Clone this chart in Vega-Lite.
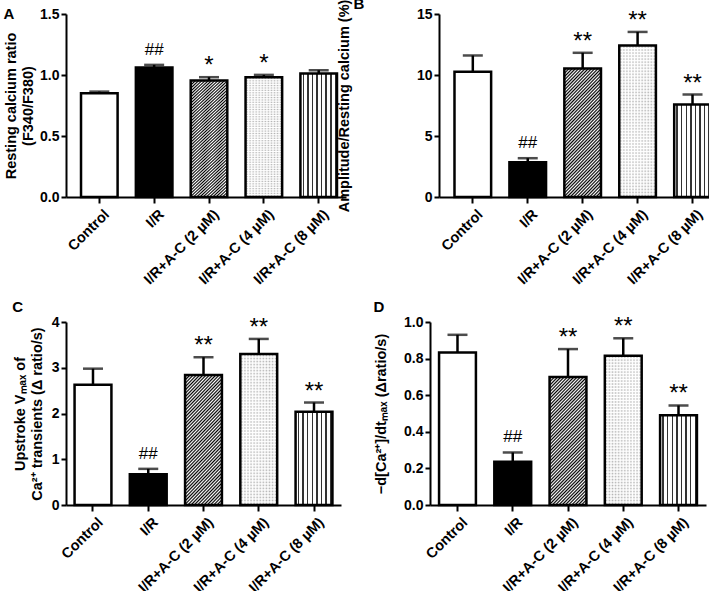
{
"$schema":"https://vega.github.io/schema/vega-lite/v6.json",
"padding":{"left":3,"top":-3,"right":0,"bottom":0},
"background":"white",
"spacing":13,
"params":[
{"name":"hatch","value":{"gradient":"linear","x1":0,"y1":0,"x2":0.35,"y2":1.19,"stops":[
{"offset":0,"color":"#fff"},{"offset":0.01,"color":"#000"},{"offset":0.02,"color":"#fff"},{"offset":0.03,"color":"#000"},{"offset":0.04,"color":"#fff"},{"offset":0.05,"color":"#000"},{"offset":0.06,"color":"#fff"},{"offset":0.07,"color":"#000"},{"offset":0.08,"color":"#fff"},{"offset":0.09,"color":"#000"},
{"offset":0.1,"color":"#fff"},{"offset":0.11,"color":"#000"},{"offset":0.12,"color":"#fff"},{"offset":0.13,"color":"#000"},{"offset":0.14,"color":"#fff"},{"offset":0.15,"color":"#000"},{"offset":0.16,"color":"#fff"},{"offset":0.17,"color":"#000"},{"offset":0.18,"color":"#fff"},{"offset":0.19,"color":"#000"},
{"offset":0.2,"color":"#fff"},{"offset":0.21,"color":"#000"},{"offset":0.22,"color":"#fff"},{"offset":0.23,"color":"#000"},{"offset":0.24,"color":"#fff"},{"offset":0.25,"color":"#000"},{"offset":0.26,"color":"#fff"},{"offset":0.27,"color":"#000"},{"offset":0.28,"color":"#fff"},{"offset":0.29,"color":"#000"},
{"offset":0.3,"color":"#fff"},{"offset":0.31,"color":"#000"},{"offset":0.32,"color":"#fff"},{"offset":0.33,"color":"#000"},{"offset":0.34,"color":"#fff"},{"offset":0.35,"color":"#000"},{"offset":0.36,"color":"#fff"},{"offset":0.37,"color":"#000"},{"offset":0.38,"color":"#fff"},{"offset":0.39,"color":"#000"},
{"offset":0.4,"color":"#fff"},{"offset":0.41,"color":"#000"},{"offset":0.42,"color":"#fff"},{"offset":0.43,"color":"#000"},{"offset":0.44,"color":"#fff"},{"offset":0.45,"color":"#000"},{"offset":0.46,"color":"#fff"},{"offset":0.47,"color":"#000"},{"offset":0.48,"color":"#fff"},{"offset":0.49,"color":"#000"},
{"offset":0.5,"color":"#fff"},{"offset":0.51,"color":"#000"},{"offset":0.52,"color":"#fff"},{"offset":0.53,"color":"#000"},{"offset":0.54,"color":"#fff"},{"offset":0.55,"color":"#000"},{"offset":0.56,"color":"#fff"},{"offset":0.57,"color":"#000"},{"offset":0.58,"color":"#fff"},{"offset":0.59,"color":"#000"},
{"offset":0.6,"color":"#fff"},{"offset":0.61,"color":"#000"},{"offset":0.62,"color":"#fff"},{"offset":0.63,"color":"#000"},{"offset":0.64,"color":"#fff"},{"offset":0.65,"color":"#000"},{"offset":0.66,"color":"#fff"},{"offset":0.67,"color":"#000"},{"offset":0.68,"color":"#fff"},{"offset":0.69,"color":"#000"},
{"offset":0.7,"color":"#fff"},{"offset":0.71,"color":"#000"},{"offset":0.72,"color":"#fff"},{"offset":0.73,"color":"#000"},{"offset":0.74,"color":"#fff"},{"offset":0.75,"color":"#000"},{"offset":0.76,"color":"#fff"},{"offset":0.77,"color":"#000"},{"offset":0.78,"color":"#fff"},{"offset":0.79,"color":"#000"},
{"offset":0.8,"color":"#fff"},{"offset":0.81,"color":"#000"},{"offset":0.82,"color":"#fff"},{"offset":0.83,"color":"#000"},{"offset":0.84,"color":"#fff"},{"offset":0.85,"color":"#000"},{"offset":0.86,"color":"#fff"},{"offset":0.87,"color":"#000"},{"offset":0.88,"color":"#fff"},{"offset":0.89,"color":"#000"},
{"offset":0.9,"color":"#fff"},{"offset":0.91,"color":"#000"},{"offset":0.92,"color":"#fff"},{"offset":0.93,"color":"#000"},{"offset":0.94,"color":"#fff"},{"offset":0.95,"color":"#000"},{"offset":0.96,"color":"#fff"},{"offset":0.97,"color":"#000"},{"offset":0.98,"color":"#fff"},{"offset":0.99,"color":"#000"},
{"offset":1,"color":"#fff"}]}},
{"name":"dots","value":{"gradient":"linear","x1":0,"y1":0,"x2":0,"y2":1,"stops":[
{"offset":0,"color":"#fff"},{"offset":0.01,"color":"#b4b4b4"},{"offset":0.02,"color":"#fff"},{"offset":0.03,"color":"#b4b4b4"},{"offset":0.04,"color":"#fff"},{"offset":0.05,"color":"#b4b4b4"},{"offset":0.06,"color":"#fff"},{"offset":0.07,"color":"#b4b4b4"},{"offset":0.08,"color":"#fff"},{"offset":0.09,"color":"#b4b4b4"},
{"offset":0.1,"color":"#fff"},{"offset":0.11,"color":"#b4b4b4"},{"offset":0.12,"color":"#fff"},{"offset":0.13,"color":"#b4b4b4"},{"offset":0.14,"color":"#fff"},{"offset":0.15,"color":"#b4b4b4"},{"offset":0.16,"color":"#fff"},{"offset":0.17,"color":"#b4b4b4"},{"offset":0.18,"color":"#fff"},{"offset":0.19,"color":"#b4b4b4"},
{"offset":0.2,"color":"#fff"},{"offset":0.21,"color":"#b4b4b4"},{"offset":0.22,"color":"#fff"},{"offset":0.23,"color":"#b4b4b4"},{"offset":0.24,"color":"#fff"},{"offset":0.25,"color":"#b4b4b4"},{"offset":0.26,"color":"#fff"},{"offset":0.27,"color":"#b4b4b4"},{"offset":0.28,"color":"#fff"},{"offset":0.29,"color":"#b4b4b4"},
{"offset":0.3,"color":"#fff"},{"offset":0.31,"color":"#b4b4b4"},{"offset":0.32,"color":"#fff"},{"offset":0.33,"color":"#b4b4b4"},{"offset":0.34,"color":"#fff"},{"offset":0.35,"color":"#b4b4b4"},{"offset":0.36,"color":"#fff"},{"offset":0.37,"color":"#b4b4b4"},{"offset":0.38,"color":"#fff"},{"offset":0.39,"color":"#b4b4b4"},
{"offset":0.4,"color":"#fff"},{"offset":0.41,"color":"#b4b4b4"},{"offset":0.42,"color":"#fff"},{"offset":0.43,"color":"#b4b4b4"},{"offset":0.44,"color":"#fff"},{"offset":0.45,"color":"#b4b4b4"},{"offset":0.46,"color":"#fff"},{"offset":0.47,"color":"#b4b4b4"},{"offset":0.48,"color":"#fff"},{"offset":0.49,"color":"#b4b4b4"},
{"offset":0.5,"color":"#fff"},{"offset":0.51,"color":"#b4b4b4"},{"offset":0.52,"color":"#fff"},{"offset":0.53,"color":"#b4b4b4"},{"offset":0.54,"color":"#fff"},{"offset":0.55,"color":"#b4b4b4"},{"offset":0.56,"color":"#fff"},{"offset":0.57,"color":"#b4b4b4"},{"offset":0.58,"color":"#fff"},{"offset":0.59,"color":"#b4b4b4"},
{"offset":0.6,"color":"#fff"},{"offset":0.61,"color":"#b4b4b4"},{"offset":0.62,"color":"#fff"},{"offset":0.63,"color":"#b4b4b4"},{"offset":0.64,"color":"#fff"},{"offset":0.65,"color":"#b4b4b4"},{"offset":0.66,"color":"#fff"},{"offset":0.67,"color":"#b4b4b4"},{"offset":0.68,"color":"#fff"},{"offset":0.69,"color":"#b4b4b4"},
{"offset":0.7,"color":"#fff"},{"offset":0.71,"color":"#b4b4b4"},{"offset":0.72,"color":"#fff"},{"offset":0.73,"color":"#b4b4b4"},{"offset":0.74,"color":"#fff"},{"offset":0.75,"color":"#b4b4b4"},{"offset":0.76,"color":"#fff"},{"offset":0.77,"color":"#b4b4b4"},{"offset":0.78,"color":"#fff"},{"offset":0.79,"color":"#b4b4b4"},
{"offset":0.8,"color":"#fff"},{"offset":0.81,"color":"#b4b4b4"},{"offset":0.82,"color":"#fff"},{"offset":0.83,"color":"#b4b4b4"},{"offset":0.84,"color":"#fff"},{"offset":0.85,"color":"#b4b4b4"},{"offset":0.86,"color":"#fff"},{"offset":0.87,"color":"#b4b4b4"},{"offset":0.88,"color":"#fff"},{"offset":0.89,"color":"#b4b4b4"},
{"offset":0.9,"color":"#fff"},{"offset":0.91,"color":"#b4b4b4"},{"offset":0.92,"color":"#fff"},{"offset":0.93,"color":"#b4b4b4"},{"offset":0.94,"color":"#fff"},{"offset":0.95,"color":"#b4b4b4"},{"offset":0.96,"color":"#fff"},{"offset":0.97,"color":"#b4b4b4"},{"offset":0.98,"color":"#fff"},{"offset":0.99,"color":"#b4b4b4"},
{"offset":1,"color":"#fff"}]}},
{"name":"dotmask","value":{"gradient":"linear","x1":0,"y1":0,"x2":1,"y2":0,"stops":[
{"offset":0,"color":"rgba(255,255,255,1)"},{"offset":0.0417,"color":"rgba(255,255,255,0)"},{"offset":0.0833,"color":"rgba(255,255,255,1)"},{"offset":0.125,"color":"rgba(255,255,255,0)"},{"offset":0.1667,"color":"rgba(255,255,255,1)"},{"offset":0.2083,"color":"rgba(255,255,255,0)"},{"offset":0.25,"color":"rgba(255,255,255,1)"},{"offset":0.2917,"color":"rgba(255,255,255,0)"},{"offset":0.3333,"color":"rgba(255,255,255,1)"},{"offset":0.375,"color":"rgba(255,255,255,0)"},{"offset":0.4167,"color":"rgba(255,255,255,1)"},{"offset":0.4583,"color":"rgba(255,255,255,0)"},{"offset":0.5,"color":"rgba(255,255,255,1)"},{"offset":0.5417,"color":"rgba(255,255,255,0)"},{"offset":0.5833,"color":"rgba(255,255,255,1)"},{"offset":0.625,"color":"rgba(255,255,255,0)"},{"offset":0.6667,"color":"rgba(255,255,255,1)"},{"offset":0.7083,"color":"rgba(255,255,255,0)"},{"offset":0.75,"color":"rgba(255,255,255,1)"},{"offset":0.7917,"color":"rgba(255,255,255,0)"},{"offset":0.8333,"color":"rgba(255,255,255,1)"},{"offset":0.875,"color":"rgba(255,255,255,0)"},{"offset":0.9167,"color":"rgba(255,255,255,1)"},{"offset":0.9583,"color":"rgba(255,255,255,0)"},{"offset":1,"color":"rgba(255,255,255,1)"}]}},
{"name":"vstripe","value":{"gradient":"linear","x1":0,"y1":0,"x2":1,"y2":0,"stops":[
{"offset":0,"color":"#fff"},{"offset":0.06,"color":"#fff"},{"offset":0.06,"color":"#333"},{"offset":0.1,"color":"#333"},{"offset":0.1,"color":"#fff"},
{"offset":0.185,"color":"#fff"},{"offset":0.185,"color":"#333"},{"offset":0.225,"color":"#333"},{"offset":0.225,"color":"#fff"},
{"offset":0.31,"color":"#fff"},{"offset":0.31,"color":"#333"},{"offset":0.35,"color":"#333"},{"offset":0.35,"color":"#fff"},
{"offset":0.435,"color":"#fff"},{"offset":0.435,"color":"#333"},{"offset":0.475,"color":"#333"},{"offset":0.475,"color":"#fff"},
{"offset":0.56,"color":"#fff"},{"offset":0.56,"color":"#333"},{"offset":0.6,"color":"#333"},{"offset":0.6,"color":"#fff"},
{"offset":0.685,"color":"#fff"},{"offset":0.685,"color":"#333"},{"offset":0.725,"color":"#333"},{"offset":0.725,"color":"#fff"},
{"offset":0.81,"color":"#fff"},{"offset":0.81,"color":"#333"},{"offset":0.85,"color":"#333"},{"offset":0.85,"color":"#fff"},
{"offset":0.935,"color":"#fff"},{"offset":0.935,"color":"#333"},{"offset":0.975,"color":"#333"},{"offset":0.975,"color":"#fff"},
{"offset":1,"color":"#fff"}]}}
],
"vconcat":[
{"hconcat":[
{"width":280,"height":183,
"title":{"text":"A","offset":-15},
"data":{"values":[
{"g":"Control","v":0.85,"e":0.864,"s":""},
{"g":"I/R","v":1.061,"e":1.083,"s":"##"},
{"g":"I/R+A-C (2 µM)","v":0.954,"e":0.982,"s":"*"},
{"g":"I/R+A-C (4 µM)","v":0.982,"e":1.001,"s":"*"},
{"g":"I/R+A-C (8 µM)","v":1.012,"e":1.039,"s":""}]},
"encoding":{"x":{"field":"g","type":"nominal","sort":null,"title":null,"scale":{"paddingInner":0.333,"paddingOuter":0.219,"align":0.625}}},
"layer":[
{"mark":{"type":"bar","strokeWidth":0},"encoding":{"y":{"field":"v","type":"quantitative","scale":{"domain":[0,1.5],"nice":false},"axis":{"values":[0,0.5,1,1.5],"format":".1f","title":["Resting calcium ratio","(F340/F380)"],"titlePadding":4}},"fill":{"condition":{"test":"datum.g==='I/R'","value":"black"},"value":"white"}}},
{"transform":[{"filter":"datum.g==='I/R+A-C (2 µM)'"}],"mark":{"type":"bar","fill":{"expr":"hatch"},"strokeWidth":0},"encoding":{"y":{"field":"v","type":"quantitative"}}},
{"transform":[{"filter":"datum.g==='I/R+A-C (4 µM)'"}],"mark":{"type":"bar","fill":{"expr":"dots"},"strokeWidth":0},"encoding":{"y":{"field":"v","type":"quantitative"}}},
{"transform":[{"filter":"datum.g==='I/R+A-C (4 µM)'"}],"mark":{"type":"bar","fill":{"expr":"dotmask"},"strokeWidth":0},"encoding":{"y":{"field":"v","type":"quantitative"}}},
{"transform":[{"filter":"datum.g==='I/R+A-C (8 µM)'"}],"mark":{"type":"bar","fill":{"expr":"vstripe"},"strokeWidth":0},"encoding":{"y":{"field":"v","type":"quantitative"}}},
{"mark":{"type":"bar","fill":"transparent","stroke":"black","strokeWidth":2.5},"encoding":{"y":{"field":"v","type":"quantitative"}}},
{"mark":{"type":"rule","color":"black","strokeWidth":2.5},"encoding":{"y":{"field":"v","type":"quantitative"},"y2":{"field":"e"}}},
{"mark":{"type":"tick","color":"black","size":20,"thickness":2.5},"encoding":{"y":{"field":"e","type":"quantitative"}}},
{"transform":[{"filter":"indexof(datum.s,'*')>=0"}],"mark":{"type":"text","fontSize":24,"dy":-4,"baseline":"alphabetic","color":"black"},"encoding":{"y":{"field":"e","type":"quantitative"},"text":{"field":"s"}}},
{"transform":[{"filter":"datum.s==='##'"}],"mark":{"type":"text","fontSize":17,"dy":-10,"baseline":"alphabetic","color":"black"},"encoding":{"y":{"field":"e","type":"quantitative"},"text":{"field":"s"}}}
]},
{"width":277,"height":183,
"title":{"text":"B","offset":-13,"dx":17},
"data":{"values":[
{"g":"Control","v":10.27,"e":11.6,"s":""},
{"g":"I/R","v":2.85,"e":3.18,"s":"##"},
{"g":"I/R+A-C (2 µM)","v":10.54,"e":11.82,"s":"**"},
{"g":"I/R+A-C (4 µM)","v":12.42,"e":13.53,"s":"**"},
{"g":"I/R+A-C (8 µM)","v":7.58,"e":8.4,"s":"**"}]},
"encoding":{"x":{"field":"g","type":"nominal","sort":null,"title":null,"scale":{"paddingInner":0.333,"paddingOuter":0.188,"align":0.75}}},
"layer":[
{"mark":{"type":"bar","strokeWidth":0},"encoding":{"y":{"field":"v","type":"quantitative","scale":{"domain":[0,15],"nice":false},"axis":{"values":[0,5,10,15],"format":"d","title":"Amplitude/Resting calcium (%)","titlePadding":65}},"fill":{"condition":{"test":"datum.g==='I/R'","value":"black"},"value":"white"}}},
{"transform":[{"filter":"datum.g==='I/R+A-C (2 µM)'"}],"mark":{"type":"bar","fill":{"expr":"hatch"},"strokeWidth":0},"encoding":{"y":{"field":"v","type":"quantitative"}}},
{"transform":[{"filter":"datum.g==='I/R+A-C (4 µM)'"}],"mark":{"type":"bar","fill":{"expr":"dots"},"strokeWidth":0},"encoding":{"y":{"field":"v","type":"quantitative"}}},
{"transform":[{"filter":"datum.g==='I/R+A-C (4 µM)'"}],"mark":{"type":"bar","fill":{"expr":"dotmask"},"strokeWidth":0},"encoding":{"y":{"field":"v","type":"quantitative"}}},
{"transform":[{"filter":"datum.g==='I/R+A-C (8 µM)'"}],"mark":{"type":"bar","fill":{"expr":"vstripe"},"strokeWidth":0},"encoding":{"y":{"field":"v","type":"quantitative"}}},
{"mark":{"type":"bar","fill":"transparent","stroke":"black","strokeWidth":2.5},"encoding":{"y":{"field":"v","type":"quantitative"}}},
{"mark":{"type":"rule","color":"black","strokeWidth":2.5},"encoding":{"y":{"field":"v","type":"quantitative"},"y2":{"field":"e"}}},
{"mark":{"type":"tick","color":"black","size":20,"thickness":2.5},"encoding":{"y":{"field":"e","type":"quantitative"}}},
{"transform":[{"filter":"indexof(datum.s,'*')>=0"}],"mark":{"type":"text","fontSize":24,"dy":-4,"baseline":"alphabetic","color":"black"},"encoding":{"y":{"field":"e","type":"quantitative"},"text":{"field":"s"}}},
{"transform":[{"filter":"datum.s==='##'"}],"mark":{"type":"text","fontSize":17,"dy":-10,"baseline":"alphabetic","color":"black"},"encoding":{"y":{"field":"e","type":"quantitative"},"text":{"field":"s"}}}
]}
],"spacing":-10},
{"hconcat":[
{"width":275,"height":183,
"title":{"text":"C","offset":0},
"data":{"values":[
{"g":"Control","v":2.63,"e":2.98,"s":""},
{"g":"I/R","v":0.67,"e":0.79,"s":"##"},
{"g":"I/R+A-C (2 µM)","v":2.84,"e":3.23,"s":"**"},
{"g":"I/R+A-C (4 µM)","v":3.3,"e":3.63,"s":"**"},
{"g":"I/R+A-C (8 µM)","v":2.04,"e":2.24,"s":"**"}]},
"encoding":{"x":{"field":"g","type":"nominal","sort":null,"title":null,"scale":{"paddingInner":0.333,"paddingOuter":0.155,"align":0.5}}},
"layer":[
{"mark":{"type":"bar","strokeWidth":0},"encoding":{"y":{"field":"v","type":"quantitative","scale":{"domain":[0,4],"nice":false},"axis":{"values":[0,1,2,3,4],"format":"d","title":["Upstroke Vₘₐₓ of","Ca²⁺ transients (Δ ratio/s)"],"titlePadding":7}},"fill":{"condition":{"test":"datum.g==='I/R'","value":"black"},"value":"white"}}},
{"transform":[{"filter":"datum.g==='I/R+A-C (2 µM)'"}],"mark":{"type":"bar","fill":{"expr":"hatch"},"strokeWidth":0},"encoding":{"y":{"field":"v","type":"quantitative"}}},
{"transform":[{"filter":"datum.g==='I/R+A-C (4 µM)'"}],"mark":{"type":"bar","fill":{"expr":"dots"},"strokeWidth":0},"encoding":{"y":{"field":"v","type":"quantitative"}}},
{"transform":[{"filter":"datum.g==='I/R+A-C (4 µM)'"}],"mark":{"type":"bar","fill":{"expr":"dotmask"},"strokeWidth":0},"encoding":{"y":{"field":"v","type":"quantitative"}}},
{"transform":[{"filter":"datum.g==='I/R+A-C (8 µM)'"}],"mark":{"type":"bar","fill":{"expr":"vstripe"},"strokeWidth":0},"encoding":{"y":{"field":"v","type":"quantitative"}}},
{"mark":{"type":"bar","fill":"transparent","stroke":"black","strokeWidth":2.5},"encoding":{"y":{"field":"v","type":"quantitative"}}},
{"mark":{"type":"rule","color":"black","strokeWidth":2.5},"encoding":{"y":{"field":"v","type":"quantitative"},"y2":{"field":"e"}}},
{"mark":{"type":"tick","color":"black","size":20,"thickness":2.5},"encoding":{"y":{"field":"e","type":"quantitative"}}},
{"transform":[{"filter":"indexof(datum.s,'*')>=0"}],"mark":{"type":"text","fontSize":24,"dy":-4,"baseline":"alphabetic","color":"black"},"encoding":{"y":{"field":"e","type":"quantitative"},"text":{"field":"s"}}},
{"transform":[{"filter":"datum.s==='##'"}],"mark":{"type":"text","fontSize":17,"dy":-10,"baseline":"alphabetic","color":"black"},"encoding":{"y":{"field":"e","type":"quantitative"},"text":{"field":"s"}}}
]},
{"width":276,"height":183,
"title":{"text":"D","offset":0},
"data":{"values":[
{"g":"Control","v":0.834,"e":0.93,"s":""},
{"g":"I/R","v":0.237,"e":0.287,"s":"##"},
{"g":"I/R+A-C (2 µM)","v":0.699,"e":0.852,"s":"**"},
{"g":"I/R+A-C (4 µM)","v":0.816,"e":0.911,"s":"**"},
{"g":"I/R+A-C (8 µM)","v":0.49,"e":0.544,"s":"**"}]},
"encoding":{"x":{"field":"g","type":"nominal","sort":null,"title":null,"scale":{"paddingInner":0.333,"paddingOuter":0.164,"align":0.5}}},
"layer":[
{"mark":{"type":"bar","strokeWidth":0},"encoding":{"y":{"field":"v","type":"quantitative","scale":{"domain":[0,1],"nice":false},"axis":{"values":[0,0.2,0.4,0.6,0.8,1],"format":".1f","labelOverlap":false,"tickCount":6,"title":"−d[Ca²⁺]/dtₘₐₓ (Δratio/s)","titlePadding":15}},"fill":{"condition":{"test":"datum.g==='I/R'","value":"black"},"value":"white"}}},
{"transform":[{"filter":"datum.g==='I/R+A-C (2 µM)'"}],"mark":{"type":"bar","fill":{"expr":"hatch"},"strokeWidth":0},"encoding":{"y":{"field":"v","type":"quantitative"}}},
{"transform":[{"filter":"datum.g==='I/R+A-C (4 µM)'"}],"mark":{"type":"bar","fill":{"expr":"dots"},"strokeWidth":0},"encoding":{"y":{"field":"v","type":"quantitative"}}},
{"transform":[{"filter":"datum.g==='I/R+A-C (4 µM)'"}],"mark":{"type":"bar","fill":{"expr":"dotmask"},"strokeWidth":0},"encoding":{"y":{"field":"v","type":"quantitative"}}},
{"transform":[{"filter":"datum.g==='I/R+A-C (8 µM)'"}],"mark":{"type":"bar","fill":{"expr":"vstripe"},"strokeWidth":0},"encoding":{"y":{"field":"v","type":"quantitative"}}},
{"mark":{"type":"bar","fill":"transparent","stroke":"black","strokeWidth":2.5},"encoding":{"y":{"field":"v","type":"quantitative"}}},
{"mark":{"type":"rule","color":"black","strokeWidth":2.5},"encoding":{"y":{"field":"v","type":"quantitative"},"y2":{"field":"e"}}},
{"mark":{"type":"tick","color":"black","size":20,"thickness":2.5},"encoding":{"y":{"field":"e","type":"quantitative"}}},
{"transform":[{"filter":"indexof(datum.s,'*')>=0"}],"mark":{"type":"text","fontSize":24,"dy":-4,"baseline":"alphabetic","color":"black"},"encoding":{"y":{"field":"e","type":"quantitative"},"text":{"field":"s"}}},
{"transform":[{"filter":"datum.s==='##'"}],"mark":{"type":"text","fontSize":17,"dy":-10,"baseline":"alphabetic","color":"black"},"encoding":{"y":{"field":"e","type":"quantitative"},"text":{"field":"s"}}}
]}
],"spacing":32}
],
"config":{
"view":{"stroke":null},
"font":"Liberation Sans",
"axis":{"domainColor":"black","domainWidth":2,"tickColor":"black","tickWidth":2,"labelColor":"black","labelFontWeight":"bold","labelFontSize":14,"labelFont":"Liberation Sans","labelOverlap":false,"titleColor":"black","titleFontWeight":"bold","titleFontSize":14.5,"titleFont":"Liberation Sans","grid":false,"titleLineHeight":17},
"axisX":{"labelAngle":-45,"labelAlign":"right","labelBaseline":"top","labelFontSize":14.5,"tickSize":6,"labelPadding":4,"labelOffset":3,"labelLimit":300},
"axisY":{"tickSize":5,"labelPadding":2,"labelOverlap":false},
"title":{"fontSize":15,"fontWeight":"bold","anchor":"start","frame":"bounds","color":"black","font":"Liberation Sans"}
}
}
